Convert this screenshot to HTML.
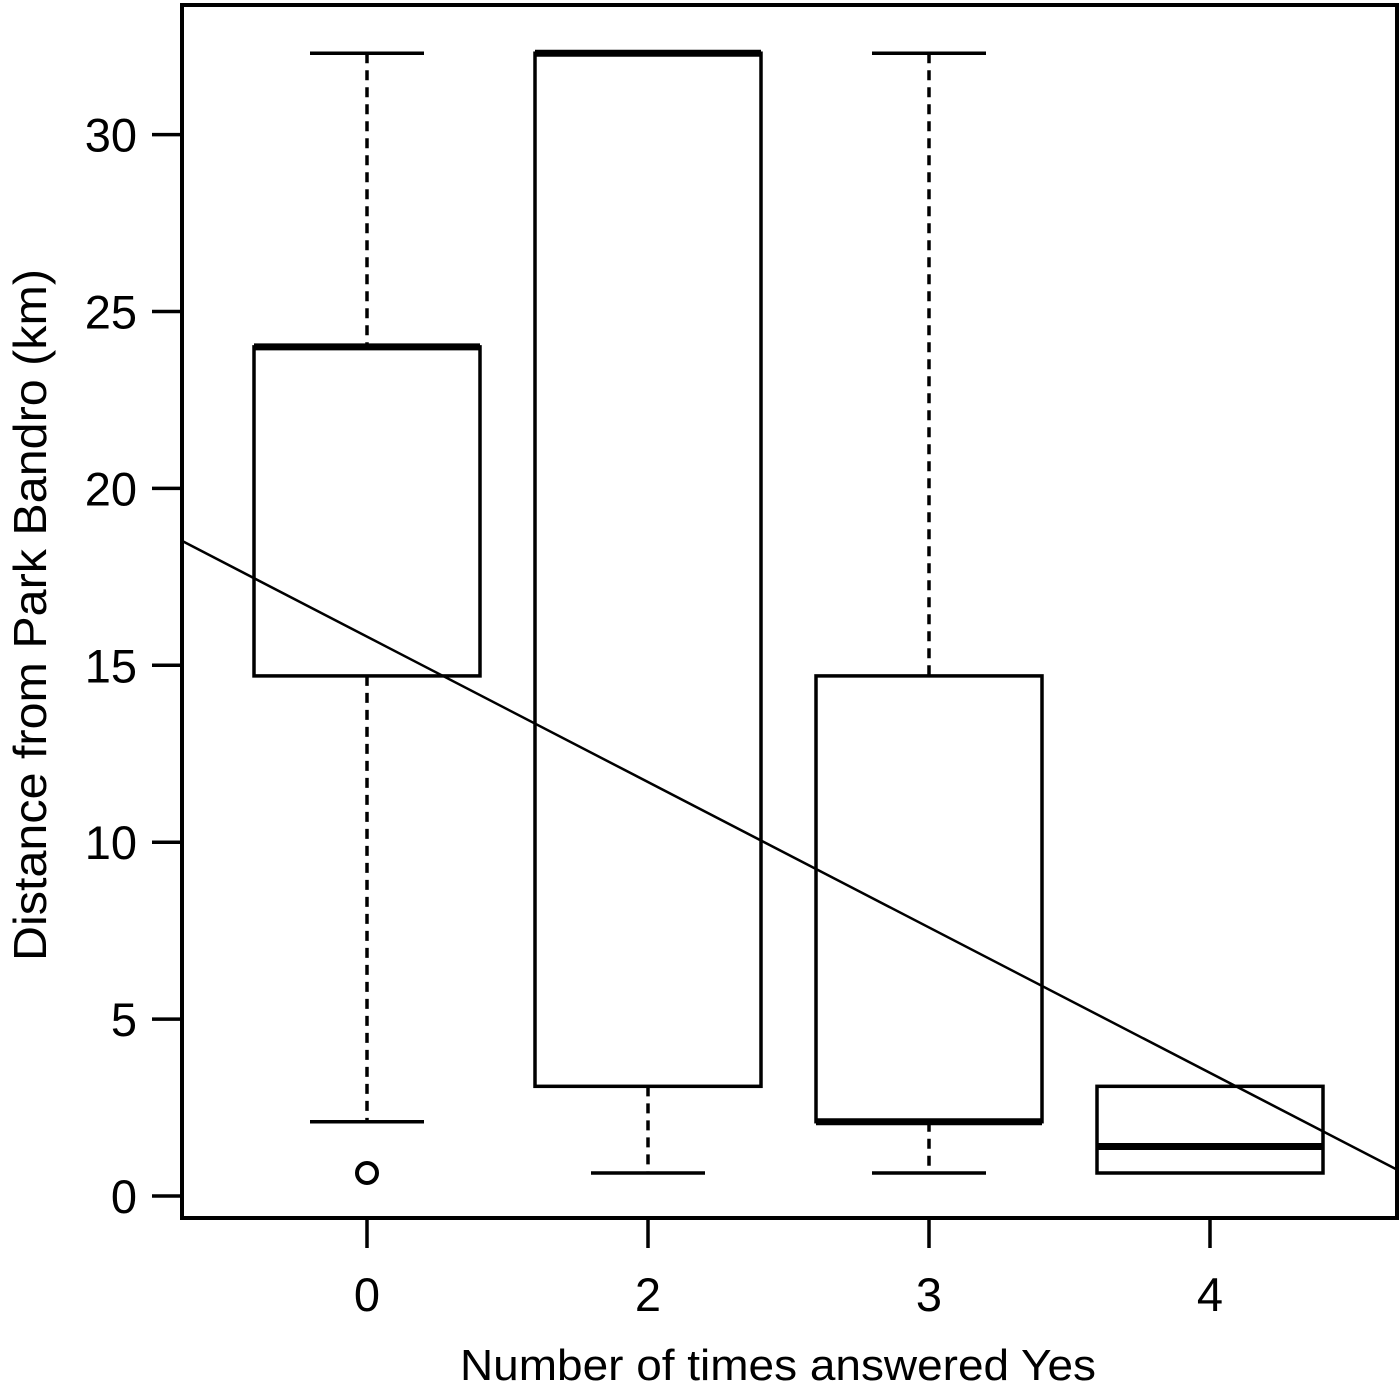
<!DOCTYPE html>
<html><head><meta charset="utf-8"><style>
html,body{margin:0;padding:0;background:#fff;}
svg{display:block;font-family:"Liberation Sans",sans-serif;}
</style></head><body>
<svg id="chart" width="1400" height="1389" viewBox="0 0 1400 1389" xmlns="http://www.w3.org/2000/svg"></svg>
<script>
const categories = ["0","2","3","4"];
const whiskerLow = [2.1, 0.65, 0.65, 0.65];
const q1 = [14.7, 3.1, 2.1, 0.65];
const medians = [24.0, 32.3, 2.1, 1.4];
const q3 = [24.0, 32.3, 14.7, 3.1];
const whiskerHigh = [32.3, 32.3, 32.3, 3.1];
const outliers = [[0, 0.65]];
const yTicks = [0, 5, 10, 15, 20, 25, 30];
const fitIntercept = 15.81;
const fitSlope = -4.11;

const NS = "http://www.w3.org/2000/svg";
const svg = document.getElementById("chart");
const L = 182, R = 1397, T = 5, B = 1218;
const y = v => 1196 - v * 35.38;
const x = i => 367 + i * 281;
const xinv = px => (px - 367) / 281;
function mk(tag, attrs) {
  const e = document.createElementNS(NS, tag);
  for (const k in attrs) e.setAttribute(k, attrs[k]);
  svg.appendChild(e);
  return e;
}
let e;
e = mk("rect", {x:L, y:T, width:R-L, height:B-T, fill:"none", stroke:"#000", "stroke-width":4});



yTicks.forEach(v => {
  e = mk("line", {x1:152, x2:L, y1:y(v), y2:y(v), stroke:"#000", "stroke-width":3.5});
  
  
  e = mk("text", {x:137, y:y(v)+17, "text-anchor":"end", "font-size":47});
  e.textContent = v;
  
  
});
categories.forEach((c, i) => {
  e = mk("line", {x1:x(i), x2:x(i), y1:B, y2:1248, stroke:"#000", "stroke-width":3.5});
  
  
  e = mk("text", {x:x(i), y:1311, "text-anchor":"middle", "font-size":47});
  e.textContent = c;
  
  

  const hw = 113, cw = 57;
  if (whiskerHigh[i] > q3[i]) {
    e = mk("line", {x1:x(i), x2:x(i), y1:y(whiskerHigh[i]), y2:y(q3[i]), stroke:"#000", "stroke-width":3.5, "stroke-dasharray":"10,7"});
    
    
  }
  if (whiskerHigh[i] >= q3[i] && i !== 3) {
    e = mk("line", {x1:x(i)-cw, x2:x(i)+cw, y1:y(whiskerHigh[i]), y2:y(whiskerHigh[i]), stroke:"#000", "stroke-width":3.5});
    
    
  }
  if (whiskerLow[i] < q1[i]) {
    e = mk("line", {x1:x(i), x2:x(i), y1:y(q1[i]), y2:y(whiskerLow[i]), stroke:"#000", "stroke-width":3.5, "stroke-dasharray":"10,7"});
    
    
    e = mk("line", {x1:x(i)-cw, x2:x(i)+cw, y1:y(whiskerLow[i]), y2:y(whiskerLow[i]), stroke:"#000", "stroke-width":3.5});
    
    
  }
  e = mk("rect", {x:x(i)-hw, y:y(q3[i]), width:2*hw, height:y(q1[i])-y(q3[i]), fill:"#fff", stroke:"#000", "stroke-width":3.5});
  
  
  e = mk("line", {x1:x(i)-hw, x2:x(i)+hw, y1:y(medians[i]), y2:y(medians[i]), stroke:"#000", "stroke-width":7});
  
  
});
outliers.forEach(o => {
  e = mk("circle", {cx:x(o[0]), cy:y(o[1]), r:10, fill:"none", stroke:"#000", "stroke-width":4});
  
  
});
const xl = xinv(L), xr = xinv(R);
e = mk("line", {x1:L, x2:R, y1:y(fitIntercept + fitSlope*xl), y2:y(fitIntercept + fitSlope*xr), stroke:"#000", "stroke-width":2.5});



e = mk("text", {x:778, y:1380, "text-anchor":"middle", "font-size":44, textLength:636, lengthAdjust:"spacingAndGlyphs"});
e.textContent = "Number of times answered Yes";


e = mk("text", {x:0, y:0, "text-anchor":"middle", "font-size":46, textLength:692, lengthAdjust:"spacingAndGlyphs", transform:"translate(46,615) rotate(-90)"});
e.textContent = "Distance from Park Bandro (km)";


</script>
</body></html>
